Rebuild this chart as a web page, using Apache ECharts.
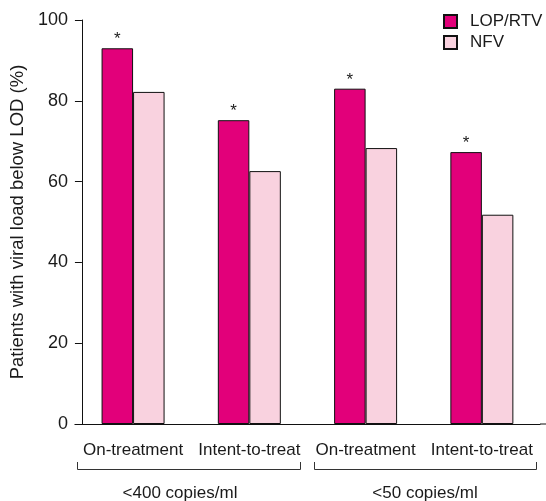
<!DOCTYPE html>
<html>
<head>
<meta charset="utf-8">
<script src="https://cdn.jsdelivr.net/npm/echarts@6/dist/echarts.min.js"></script>
<style>html,body{margin:0;padding:0;background:#fff}#c{width:546px;height:501px}</style>
</head>
<body>
<div id="c"></div>
<script>
const categories = ['On-treatment', 'Intent-to-treat', 'On-treatment', 'Intent-to-treat'];
const groupLabels = ['<400 copies/ml', '<50 copies/ml'];
const seriesNames = ['LOP/RTV', 'NFV'];
const lopValues = [93, 75.2, 83, 67.3];
const nfvValues = [82.2, 62.6, 68.3, 51.8];
const significant = [true, true, true, true];
const yTicks = [0, 20, 40, 60, 80, 100];
const yTitle = 'Patients with viral load below LOD (%)';

const FONT = "'Liberation Sans', Arial, Helvetica, sans-serif";
const TXT = '#1a1a1a';
const chart = echarts.init(document.getElementById('c'), null, {renderer: 'canvas'});
const option = {
  animation: false,
  backgroundColor: '#fff',
  textStyle: {fontFamily: FONT},
  grid: {left: 70, right: 6, top: 20, bottom: 77, containLabel: false},
  legend: {
    orient: 'vertical', left: 438, top: 8, itemWidth: 13, itemHeight: 13, itemGap: 4,
    icon: 'rect',
    textStyle: {fontFamily: FONT, fontSize: 17, color: TXT, padding: [0, 0, 0, 8]},
    data: seriesNames
  },
  xAxis: {
    type: 'category', data: categories,
    axisLine: {lineStyle: {color: '#111', width: 1}},
    axisTick: {show: false},
    axisLabel: {fontFamily: FONT, fontSize: 17, color: TXT, margin: 18, interval: 0}
  },
  yAxis: {
    type: 'value', min: yTicks[0], max: yTicks[yTicks.length - 1], interval: 20, offset: -7,
    name: yTitle, nameLocation: 'middle', nameGap: 49,
    nameTextStyle: {fontFamily: FONT, fontSize: 18.5, color: TXT},
    axisLine: {show: true, lineStyle: {color: '#111', width: 1}},
    axisTick: {show: true, length: 7, lineStyle: {color: '#111'}},
    splitLine: {show: false},
    axisLabel: {fontFamily: FONT, fontSize: 18, color: TXT, margin: 14}
  },
  series: [
    {
      name: seriesNames[0], type: 'bar', data: lopValues, barWidth: 31.5, barGap: '0%',
      itemStyle: {color: '#E2007A', borderColor: '#111', borderWidth: 1},
      label: {show: true, position: 'top', distance: 0, fontSize: 17, color: TXT, fontFamily: FONT,
        formatter: p => significant[p.dataIndex] ? '*' : ''}
    },
    {
      name: seriesNames[1], type: 'bar', data: nfvValues, barWidth: 31.5, barGap: '0%',
      itemStyle: {color: '#F9D2DF', borderColor: '#111', borderWidth: 1}
    }
  ],
  graphic: [
    {type: 'line', shape: {x1: 540, y1: 424, x2: 546, y2: 424}, style: {stroke: '#111', lineWidth: 1}},
    {type: 'polyline', shape: {points: [[77.5, 462], [77.5, 469.5], [300.5, 469.5], [300.5, 462]]}, style: {stroke: '#333', lineWidth: 1, fill: null}},
    {type: 'polyline', shape: {points: [[314.5, 462], [314.5, 469.5], [536.5, 469.5], [536.5, 462]]}, style: {stroke: '#333', lineWidth: 1, fill: null}},
    {type: 'text', x: 180, y: 493, style: {text: groupLabels[0], font: '17px ' + FONT, fill: TXT, textAlign: 'center', textVerticalAlign: 'middle'}},
    {type: 'text', x: 425, y: 493, style: {text: groupLabels[1], font: '17px ' + FONT, fill: TXT, textAlign: 'center', textVerticalAlign: 'middle'}}
  ]
};
chart.setOption(option);
</script>
</body>
</html>
